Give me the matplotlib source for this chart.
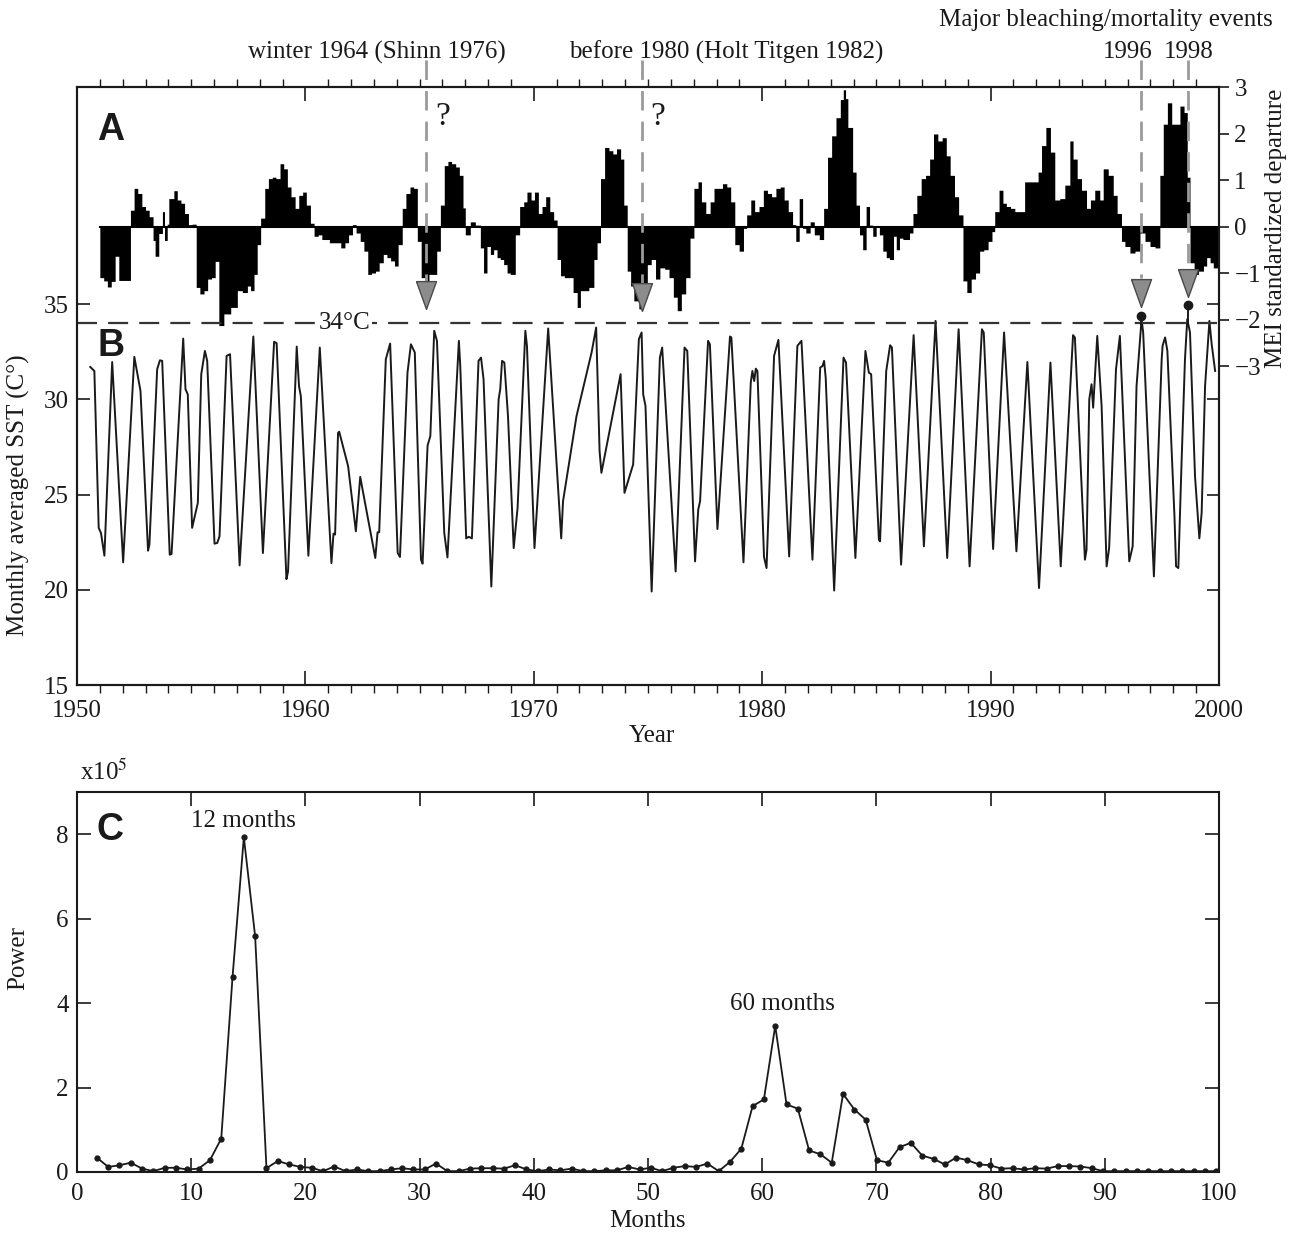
import numpy as np
import matplotlib
matplotlib.use("Agg")
import matplotlib.pyplot as plt

# ---------------- data ----------------
# Panel A: MEI (step bars); start year of each step and its value
mei_year = [1951.0, 1951.17, 1951.33, 1951.5, 1951.67, 1951.83, 1952.34, 1952.5, 1952.66, 1952.84,
            1953.0, 1953.16, 1953.33, 1953.42, 1953.58, 1953.74, 1953.83, 1953.95, 1954.02, 1954.24,
            1954.39, 1954.55, 1954.71, 1954.88, 1955.04, 1955.22, 1955.38, 1955.56, 1955.72, 1955.89,
            1956.05, 1956.21, 1956.43, 1956.73, 1957.02, 1957.24, 1957.46, 1957.6, 1957.75, 1957.89,
            1958.04, 1958.22, 1958.38, 1958.55, 1958.71, 1958.89, 1959.05, 1959.21, 1959.37, 1959.55,
            1959.71, 1959.88, 1960.04, 1960.22, 1960.38, 1960.56, 1960.72, 1961.05, 1961.39, 1961.55,
            1961.73, 1961.89, 1962.06, 1962.22, 1962.4, 1962.56, 1962.73, 1962.89, 1963.07, 1963.23,
            1963.41, 1963.57, 1963.73, 1963.9, 1964.06, 1964.24, 1964.4, 1964.58, 1964.74, 1964.9,
            1965.07, 1965.23, 1965.41, 1965.75, 1965.91, 1966.08, 1966.24, 1966.4, 1966.58, 1966.74,
            1966.9, 1967.0, 1967.22, 1967.44, 1967.66, 1967.8, 1967.95, 1968.1, 1968.24, 1968.39,
            1968.53, 1968.68, 1968.83, 1968.97, 1969.19, 1969.38, 1969.56, 1969.7, 1969.88, 1970.03,
            1970.2, 1970.36, 1970.52, 1970.7, 1970.87, 1971.02, 1971.17, 1971.34, 1971.72, 1971.9,
            1972.04, 1972.41, 1972.63, 1972.77, 1972.92, 1973.1, 1973.29, 1973.46, 1973.62, 1973.8,
            1973.94, 1974.09, 1974.24, 1974.38, 1974.6, 1974.79, 1974.97, 1975.14, 1975.33, 1975.52,
            1975.73, 1975.92, 1976.11, 1976.28, 1976.46, 1976.65, 1976.84, 1977.01, 1977.19, 1977.34,
            1977.53, 1977.72, 1977.89, 1978.07, 1978.26, 1978.45, 1978.62, 1978.8, 1978.99, 1979.18,
            1979.32, 1979.5, 1979.67, 1979.86, 1980.05, 1980.23, 1980.41, 1980.6, 1980.79, 1980.96,
            1981.14, 1981.33, 1981.47, 1981.62, 1981.77, 1981.91, 1982.1, 1982.28, 1982.5, 1982.69,
            1982.86, 1983.04, 1983.23, 1983.42, 1983.55, 1983.65, 1983.75, 1983.96, 1984.11, 1984.26,
            1984.4, 1984.55, 1984.7, 1984.84, 1984.99, 1985.13, 1985.28, 1985.43, 1985.57, 1985.75,
            1985.87, 1986.01, 1986.16, 1986.45, 1986.6, 1986.77, 1986.96, 1987.15, 1987.33, 1987.5,
            1987.69, 1987.88, 1988.06, 1988.23, 1988.42, 1988.6, 1988.79, 1988.96, 1989.15, 1989.34,
            1989.52, 1989.7, 1989.89, 1990.06, 1990.18, 1990.37, 1990.54, 1990.69, 1990.87, 1991.06,
            1991.49, 1992.08, 1992.23, 1992.42, 1992.62, 1992.81, 1993.03, 1993.25, 1993.47, 1993.61,
            1993.79, 1993.98, 1994.2, 1994.37, 1994.56, 1994.78, 1994.93, 1995.15, 1995.37, 1995.54,
            1995.73, 1995.88, 1996.1, 1996.32, 1996.54, 1996.76, 1996.98, 1997.2, 1997.41, 1997.56,
            1997.74, 1997.93, 1998.29, 1998.47, 1998.61, 1998.73, 1998.91, 1999.1, 1999.32, 1999.46,
            1999.61, 1999.75]
mei_value = [-1.1, -1.17, -1.3, -1.18, -0.64, -1.16, 0.35, 0.82, 0.71, 0.43,
             0.35, 0.21, -0.3, -0.64, -0.15, 0.32, -0.3, 0.05, 0.6, 0.77,
             0.57, 0.5, 0.28, 0.04, 0.05, -1.31, -1.45, -1.38, -1.13, -1.1,
             -0.75, -2.13, -1.88, -1.74, -1.38, -1.42, -1.28, -1.38, -1.03, -0.39,
             0.18, 0.82, 1.03, 1.06, 1.03, 1.35, 1.24, 0.85, 0.64, 0.39,
             0.67, 0.74, 0.46, 0.07, -0.21, -0.18, -0.28, -0.35, -0.35, -0.46,
             -0.35, -0.18, 0.04, -0.14, -0.32, -0.53, -1.03, -1.0, -0.96, -0.78,
             -0.6, -0.67, -0.74, -0.85, -0.39, 0.39, 0.71, 0.85, 0.82, -0.32,
             -1.1, -1.17, -1.03, -0.53, 0.46, 1.31, 1.4, 1.35, 1.28, 1.1,
             0.4, -0.18, 0.1, 0.03, -0.46, -1.0, -0.43, -0.6, -0.5, -0.67,
             -0.71, -0.82, -1.0, -1.03, -0.18, 0.43, 0.53, 0.74, 0.57, 0.74,
             0.28, 0.43, 0.64, 0.32, 0.14, -0.71, -1.06, -1.1, -1.42, -1.74,
             -1.38, -1.31, -0.71, -0.35, 1.03, 1.7, 1.63, 1.56, 1.67, 1.45,
             0.46, -0.96, -1.28, -1.6, -1.77, -1.38, -0.82, -0.71, -1.13, -0.89,
             -0.92, -1.1, -1.52, -1.81, -1.45, -1.1, -0.25, 0.82, 0.96, 0.53,
             0.28, 0.53, 0.82, 0.82, 0.92, 0.85, 0.53, -0.39, -0.53, -0.04,
             0.25, 0.57, 0.32, 0.43, 0.78, 0.71, 0.64, 0.82, 0.85, 0.57,
             0.32, 0.04, -0.32, 0.6, -0.04, -0.14, 0.1, -0.18, -0.28, 0.39,
             1.49, 1.95, 2.34, 2.73, 2.94, 2.75, 2.13, 1.17, 0.46, -0.18,
             -0.5, 0.43, 0.03, -0.21, 0.02, -0.18, -0.53, -0.67, -0.71, -0.21,
             -0.5, -0.25, -0.28, -0.14, 0.28, 0.67, 1.03, 1.1, 1.45, 1.99,
             1.84, 1.91, 1.52, 1.1, 0.64, 0.25, -1.17, -1.42, -1.13, -1.0,
             -0.53, -0.5, -0.32, -0.11, 0.32, 0.78, 0.5, 0.43, 0.39, 0.32,
             0.96, 1.17, 1.74, 2.13, 1.6, 0.57, 0.6, 0.89, 1.84, 1.45,
             1.03, 0.78, 0.39, 0.57, 0.78, 0.57, 1.24, 1.1, 0.67, 0.28,
             -0.32, -0.43, -0.57, -0.53, -0.14, -0.32, -0.43, -0.46, 1.1, 2.2,
             2.66, 2.2, 2.59, 2.45, 1.06, -0.78, -1.03, -0.96, -0.85, -0.67,
             -0.78, -0.89]

# Panel B: monthly averaged SST (turning points of the trace)
sst_year = [1950.58, 1950.76, 1950.95, 1951.05, 1951.2, 1951.54, 1952.02, 1952.51, 1952.78, 1953.11,
            1953.17, 1953.51, 1953.63, 1953.73, 1954.06, 1954.14, 1954.65, 1954.75, 1954.85, 1955.04,
            1955.29, 1955.44, 1955.6, 1955.7, 1956.02, 1956.14, 1956.24, 1956.55, 1956.7, 1957.12,
            1957.72, 1958.14, 1958.63, 1958.74, 1959.17, 1959.24, 1959.62, 1959.72, 1959.8, 1960.13,
            1960.63, 1961.14, 1961.23, 1961.3, 1961.43, 1961.48, 1961.87, 1962.21, 1962.4, 1963.06,
            1963.16, 1963.23, 1963.52, 1963.71, 1964.04, 1964.14, 1964.47, 1964.62, 1964.79, 1965.06,
            1965.13, 1965.35, 1965.47, 1965.64, 1965.76, 1966.08, 1966.22, 1966.72, 1966.78, 1967.04,
            1967.15, 1967.29, 1967.58, 1967.69, 1967.8, 1968.14, 1968.46, 1968.53, 1968.61, 1968.71,
            1968.87, 1969.12, 1969.29, 1969.63, 1969.7, 1970.03, 1970.63, 1971.2, 1971.28, 1971.87,
            1972.53, 1972.73, 1972.88, 1972.96, 1973.8, 1973.97, 1974.35, 1974.6, 1974.72, 1974.79,
            1974.89, 1975.16, 1975.52, 1975.62, 1976.21, 1976.6, 1976.72, 1977.06, 1977.2, 1977.28,
            1977.63, 1977.71, 1978.04, 1978.59, 1978.65, 1979.18, 1979.5, 1979.57, 1979.65, 1979.72,
            1979.79, 1980.08, 1980.19, 1980.52, 1980.71, 1981.18, 1981.54, 1981.72, 1982.2, 1982.54,
            1982.64, 1982.71, 1982.78, 1983.15, 1983.56, 1983.67, 1984.08, 1984.52, 1984.67, 1984.77,
            1985.11, 1985.16, 1985.43, 1985.6, 1985.68, 1986.08, 1986.63, 1987.08, 1987.59, 1988.1,
            1988.6, 1989.08, 1989.62, 1989.7, 1990.11, 1990.59, 1991.13, 1991.61, 1992.12, 1992.62,
            1993.07, 1993.61, 1993.69, 1994.13, 1994.2, 1994.32, 1994.42, 1994.49, 1994.67, 1994.86,
            1995.08, 1995.19, 1995.49, 1995.66, 1996.07, 1996.22, 1996.39, 1996.61, 1996.68, 1997.15,
            1997.49, 1997.53, 1997.64, 1997.74, 1998.05, 1998.12, 1998.22, 1998.36, 1998.51, 1998.61,
            1998.73, 1998.95, 1999.14, 1999.24, 1999.39, 1999.58, 1999.68, 1999.83]
sst_value = [31.7, 31.49, 23.25, 22.98, 21.79, 31.96, 21.44, 32.23, 30.44, 22.05,
             22.37, 31.58, 32.05, 32.02, 21.84, 21.88, 33.19, 30.53, 30.26, 23.25,
             24.56, 31.32, 32.54, 32.02, 22.42, 22.46, 22.81, 32.28, 32.37, 21.28,
             33.3, 21.93, 33.02, 32.95, 20.56, 20.96, 32.77, 30.7, 30.17, 21.79,
             32.72, 21.4, 22.95, 22.9, 28.24, 28.3, 26.49, 23.07, 25.93, 21.67,
             23.02, 23.02, 32.1, 32.93, 21.93, 21.72, 31.4, 32.89, 32.46, 21.58,
             21.37, 27.58, 28.07, 33.6, 33.07, 22.98, 21.7, 33.07, 31.75, 22.7,
             22.78, 22.7, 32.02, 32.19, 31.05, 20.17, 30.0, 30.53, 32.02, 31.93,
             29.12, 22.19, 24.3, 33.6, 32.81, 22.19, 33.72, 22.7, 24.65, 29.12,
             32.46, 33.77, 27.28, 26.14, 31.32, 25.09, 26.58, 33.16, 33.51, 30.26,
             29.65, 19.91, 32.19, 32.72, 20.96, 32.72, 32.54, 21.49, 24.21, 24.65,
             33.07, 32.89, 23.19, 33.3, 33.25, 21.44, 30.88, 31.49, 30.96, 31.61,
             31.49, 21.72, 21.14, 32.28, 33.12, 21.75, 32.81, 33.07, 21.58, 31.67,
             31.75, 32.02, 31.14, 19.96, 32.19, 31.93, 21.67, 32.54, 31.4, 31.32,
             22.63, 22.54, 31.49, 32.84, 32.72, 21.32, 33.37, 22.28, 34.12, 21.67,
             33.68, 21.23, 33.68, 33.51, 22.14, 33.51, 22.02, 31.96, 20.09, 31.93,
             21.23, 33.37, 33.25, 21.58, 22.1, 30.0, 30.79, 29.56, 33.33, 29.65,
             21.23, 22.19, 31.58, 33.33, 21.49, 22.28, 30.7, 34.21, 33.51, 20.7,
             32.1, 32.81, 33.25, 32.54, 23.86, 21.23, 21.14, 26.67, 32.1, 34.21,
             33.51, 25.96, 22.7, 24.03, 30.7, 34.12, 32.89, 31.49]

# bleaching / mortality events
event_year = [1965.28, 1974.74, 1996.58, 1998.63]
event_label = ['winter 1964 (Shinn 1976)', 'before 1980 (Holt Titgen 1982)', '1996', '1998']
event_dot_year = [1996.6, 1998.63]
event_dot_sst = [34.37, 34.95]

# Panel C: power spectrum (x10^5)
power = [0.34, 0.12, 0.16, 0.22, 0.08, 0.02, 0.1, 0.1, 0.06, 0.08,
         0.28, 0.79, 4.62, 7.93, 5.58, 0.09, 0.26, 0.18, 0.12, 0.1,
         0.02, 0.13, 0.02, 0.06, 0.02, 0.02, 0.06, 0.09, 0.06, 0.06,
         0.2, 0.02, 0.02, 0.08, 0.09, 0.09, 0.08, 0.16, 0.06, 0.02,
         0.06, 0.04, 0.08, 0.02, 0.02, 0.04, 0.04, 0.12, 0.06, 0.1,
         0.02, 0.1, 0.14, 0.12, 0.2, 0.02, 0.24, 0.55, 1.56, 1.72,
         3.46, 1.6, 1.5, 0.51, 0.42, 0.22, 1.85, 1.48, 1.24, 0.28,
         0.22, 0.59, 0.69, 0.39, 0.31, 0.18, 0.34, 0.28, 0.18, 0.16,
         0.08, 0.09, 0.06, 0.09, 0.08, 0.14, 0.14, 0.13, 0.09, 0.02,
         0.02, 0.02, 0.02, 0.02, 0.02, 0.02, 0.02, 0.02, 0.02, 0.02]
months = np.linspace(1.74, 99.75, len(power))

# ---------------- style / layout ----------------
plt.rcParams['font.family'] = ['Liberation Serif', 'DejaVu Serif']
plt.rcParams['mathtext.fontset'] = 'stix'
plt.rcParams['font.size'] = 18

W, H = 1301, 1233
fig = plt.figure(figsize=(W / 100, H / 100), dpi=100)


def fx(p):
    return p / W


def fy(p):
    return 1 - p / H


ink = '#1a1a1a'
L, R = 77, 1219

ax = fig.add_axes([fx(L), fy(685), fx(R) - fx(L), fy(87) - fy(685)])
ax2 = ax.twinx()
ax.set_zorder(ax2.get_zorder() + 1)
ax.patch.set_visible(False)

# ---- MEI bars (panel A) ----
mx = np.append(mei_year, 2000.0)
mv = np.append(mei_value, mei_value[-1])
ax2.fill_between(mx, 0, mv, step='post', color='black', lw=0)
ax2.plot([mei_year[0], 2000.0], [0, 0], color='black', lw=1.5)
ax2.set_ylim(-9.86, 3)
ax2.set_yticks([-3, -2, -1, 0, 1, 2, 3])
ax2.tick_params(axis='y', direction='out', length=7, width=1.2, labelsize=18, pad=4, colors=ink)

# ---- SST line (panel B) ----
ax.plot(sst_year, sst_value, color=ink, lw=1.4)
ax.set_xlim(1950, 2000)
ax.set_ylim(15, 46.4)
ax.set_yticks([15, 20, 25, 30, 35])
ax.set_xticks(range(1950, 2001, 10))
ax.set_xticks(range(1950, 2001), minor=True)
ax.tick_params(axis='x', which='major', direction='in', length=10, width=1.2, top=True,
               labelsize=18, pad=11, colors=ink)
ax.tick_params(axis='x', which='minor', direction='out', length=6, width=1.0, top=True, colors=ink)
ax.tick_params(axis='y', which='major', direction='in', length=9, width=1.2, right=True,
               labelsize=18, pad=6, colors=ink)
for a in (ax, ax2):
    for s in a.spines.values():
        s.set_linewidth(1.5)
        s.set_color(ink)

# 34 degC threshold
ax.axhline(34, color='#333333', lw=1.6, dashes=(9, 5))
ax.text(1961.73, 34, '34°C', ha='center', va='center', size=18, color=ink,
        bbox=dict(fc='white', ec='none', pad=1.0))

# event markers
tri_top = [36.21, 36.10, 36.37, 36.84]
tri_mid = [35.47, 35.37, 35.60, 36.10]
tri = [(-0.72, 1), (0.72, 1), (0, -1), (-0.72, 1)]
for x, t, m in zip(event_year, tri_top, tri_mid):
    ax.plot([x, x], [47.8, t], color='#9a9a9a', lw=2, dashes=(7, 4), clip_on=False)
    ax.plot([x], [m], marker=tri, ms=20, mfc='#8c8c8c', mec='#4a4a4a', mew=1.0,
            ls='none', clip_on=False)
for x, y in zip(event_dot_year, event_dot_sst):
    ax.plot([x, x], [y, 33.9], color=ink, lw=1.4)
    ax.plot([x], [y], 'o', ms=6, color=ink)

ax.text(1966.0, 44.84, '?', size=24, ha='center', va='center', color=ink)
ax.text(1975.44, 44.84, '?', size=24, ha='center', va='center', color=ink)

label_px = [377, 726, 1128, 1189]
for lab, px in zip(event_label, label_px):
    fig.text(fx(px), fy(52), lab, ha='center', va='center', size=18, color=ink)
fig.text(fx(1273), fy(20), 'Major bleaching/mortality events', ha='right', va='center',
         size=18, color=ink)

# panel letters
for lab, py in (('A', 130), ('B', 346), ('C', 830)):
    fig.text(fx(97), fy(py), lab, family=['Liberation Sans', 'DejaVu Sans'], weight='bold',
             size=27, ha='left', va='center', color=ink)

fig.text(fx(18), fy(495), 'Monthly averaged SST (C°)', rotation=90, ha='center',
         va='center', size=18, color=ink)
fig.text(fx(1276), fy(228), 'MEI standardized departure', rotation=90, ha='center',
         va='center', size=18, color=ink)
fig.text(fx(652), fy(736), 'Year', ha='center', va='center', size=18, color=ink)

# ---- panel C ----
axc = fig.add_axes([fx(L), fy(1172), fx(R) - fx(L), fy(792) - fy(1172)])
axc.plot(months, power, '-', color=ink, lw=1.3, marker='o', ms=3.5)
axc.set_xlim(0, 100)
axc.set_ylim(0, 9)
axc.set_xticks(range(0, 101, 10))
axc.set_yticks([0, 2, 4, 6, 8])
axc.tick_params(axis='both', direction='in', length=10, width=1.2, top=True, right=True,
                labelsize=18, colors=ink)
axc.tick_params(axis='x', pad=8)
axc.tick_params(axis='y', pad=6)
for s in axc.spines.values():
    s.set_linewidth(1.5)
    s.set_color(ink)
axc.text(14.6, 8.31, '12 months', ha='center', va='center', size=18, color=ink)
axc.text(61.75, 3.97, '60 months', ha='center', va='center', size=18, color=ink)

fig.text(fx(80), fy(772), r'x10$^5$', ha='left', va='center', size=18, color=ink)
fig.text(fx(18), fy(958), 'Power', rotation=90, ha='center', va='center', size=18, color=ink)
fig.text(fx(647), fy(1221), 'Months', ha='center', va='center', size=18, color=ink)

fig.savefig('out.png', dpi=100)
